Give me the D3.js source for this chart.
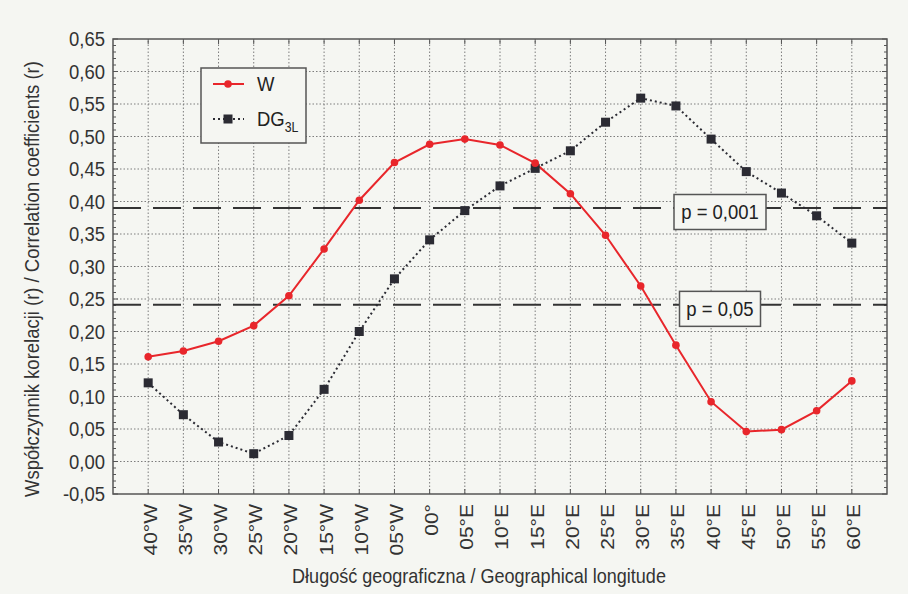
<!DOCTYPE html>
<html>
<head>
<meta charset="utf-8">
<script src="https://cdn.jsdelivr.net/npm/d3@7"></script>
<style>
  html, body { margin: 0; padding: 0; background: #f5f6f2; }
  svg { display: block; font-family: "Liberation Sans", Arial, sans-serif; }
</style>
</head>
<body>
<div id="chart"></div>
<script>
// longitudes along the x axis
const categories = ["40°W", "35°W", "30°W", "25°W", "20°W", "15°W", "10°W", "05°W", "00°",
  "05°E", "10°E", "15°E", "20°E", "25°E", "30°E", "35°E", "40°E", "45°E", "50°E", "55°E", "60°E"];

// correlation coefficients
const wValues = [0.161, 0.170, 0.185, 0.209, 0.255, 0.327, 0.402, 0.460, 0.488, 0.496, 0.487,
  0.459, 0.412, 0.348, 0.270, 0.179, 0.092, 0.046, 0.049, 0.078, 0.124];
const dgValues = [0.121, 0.072, 0.030, 0.012, 0.040, 0.111, 0.200, 0.281, 0.341, 0.386, 0.424,
  0.451, 0.478, 0.522, 0.559, 0.547, 0.496, 0.446, 0.413, 0.378, 0.336];

// significance thresholds
const sigLevels = [0.390, 0.241];
const sigLabels = ["p = 0,001", "p = 0,05"];

const yTicks = [-0.05, 0, 0.05, 0.10, 0.15, 0.20, 0.25, 0.30, 0.35, 0.40, 0.45, 0.50, 0.55, 0.60, 0.65];

const width = 908, height = 594;
const margin = { top: 39, right: 21, bottom: 100, left: 113 };
const sx = 0.88; // text in the source is a bit narrow

const svg = d3.select("#chart").append("svg")
  .attr("width", width)
  .attr("height", height);

svg.append("rect")
  .attr("width", width)
  .attr("height", height)
  .attr("fill", "#f5f6f2");

const x = d3.scalePoint()
  .domain(categories)
  .range([margin.left, width - margin.right])
  .padding(1);

const y = d3.scaleLinear()
  .domain([-0.05, 0.65])
  .range([height - margin.bottom, margin.top]);

const plTick = d3.formatLocale({ decimal: ",", thousands: " ", grouping: [3], currency: ["", ""], minus: "-" }).format(".2f");

const x0 = margin.left, x1 = width - margin.right;
const y0 = height - margin.bottom, y1 = margin.top;

// grid
const grid = svg.append("g")
  .attr("stroke", "#7d7d7d")
  .attr("stroke-width", 1)
  .attr("stroke-dasharray", "1.5,2");

grid.selectAll("line.h")
  .data(yTicks.filter(d => d > -0.05 && d < 0.65))
  .enter().append("line")
  .attr("x1", x0).attr("x2", x1)
  .attr("y1", d => y(d)).attr("y2", d => y(d));

grid.selectAll("line.v")
  .data(categories)
  .enter().append("line")
  .attr("x1", d => x(d)).attr("x2", d => x(d))
  .attr("y1", y0).attr("y2", y1);

// minor ticks left and right
const minor = d3.range(-5, 66).map(d => d / 100);
const tk = svg.append("g").attr("stroke", "#555").attr("stroke-width", 1);
tk.selectAll("line.ml")
  .data(minor)
  .enter().append("line")
  .attr("x1", x0).attr("x2", d => x0 + (Math.round(d * 100) % 5 === 0 ? 5 : 3))
  .attr("y1", d => y(d)).attr("y2", d => y(d));
tk.selectAll("line.mr")
  .data(minor)
  .enter().append("line")
  .attr("x1", x1).attr("x2", d => x1 - (Math.round(d * 100) % 5 === 0 ? 5 : 3))
  .attr("y1", d => y(d)).attr("y2", d => y(d));
tk.selectAll("line.bt")
  .data(categories)
  .enter().append("line")
  .attr("x1", d => x(d)).attr("x2", d => x(d))
  .attr("y1", y0).attr("y2", y0 - 5);
tk.selectAll("line.tt")
  .data(categories)
  .enter().append("line")
  .attr("x1", d => x(d)).attr("x2", d => x(d))
  .attr("y1", y1).attr("y2", y1 + 5);

// frame
svg.append("rect")
  .attr("x", x0).attr("y", y1)
  .attr("width", x1 - x0).attr("height", y0 - y1)
  .attr("fill", "none")
  .attr("stroke", "#555")
  .attr("stroke-width", 1.5);

// y tick labels
svg.append("g")
  .selectAll("text")
  .data(yTicks)
  .enter().append("text")
  .attr("transform", d => `translate(${x0 - 8},${y(d)}) scale(${sx},1)`)
  .attr("dy", "0.35em")
  .attr("text-anchor", "end")
  .attr("font-size", 21)
  .attr("fill", "#333")
  .text(d => plTick(d));

// x tick labels (rotated)
svg.append("g")
  .selectAll("text")
  .data(categories)
  .enter().append("text")
  .attr("transform", d => `translate(${x(d) + 2},${y0 + 10}) rotate(-90) scale(1,${sx})`)
  .attr("dy", "0.35em")
  .attr("text-anchor", "end")
  .attr("font-size", 21)
  .attr("fill", "#333")
  .text(d => d);

// axis titles
svg.append("text")
  .attr("transform", `translate(479,583) scale(${sx},1)`)
  .attr("text-anchor", "middle")
  .attr("font-size", 20.5)
  .attr("fill", "#333")
  .text("Długość geograficzna / Geographical longitude");

svg.append("text")
  .attr("transform", `translate(39,279) rotate(-90) scale(${sx},1)`)
  .attr("text-anchor", "middle")
  .attr("font-size", 21)
  .attr("fill", "#333")
  .text("Współczynnik korelacji (r) / Correlation coefficients (r)");

// significance lines
svg.append("g")
  .selectAll("line")
  .data(sigLevels)
  .enter().append("line")
  .attr("x1", x0).attr("x2", x1)
  .attr("y1", d => y(d)).attr("y2", d => y(d))
  .attr("stroke", "#333")
  .attr("stroke-width", 2)
  .attr("stroke-dasharray", "28,12");

// significance labels in boxes
const sigBox = [{ w: 92, h: 35 }, { w: 81, h: 35 }];
sigLevels.forEach((lv, i) => {
  const cx = 720;
  const cy = y(lv) + 4;
  svg.append("rect")
    .attr("x", cx - sigBox[i].w / 2).attr("y", cy - sigBox[i].h / 2)
    .attr("width", sigBox[i].w).attr("height", sigBox[i].h)
    .attr("fill", "#f5f6f2")
    .attr("stroke", "#555")
    .attr("stroke-width", 1.5);
  svg.append("text")
    .attr("transform", `translate(${cx},${cy}) scale(${sx},1)`)
    .attr("dy", "0.35em")
    .attr("text-anchor", "middle")
    .attr("font-size", 21)
    .attr("fill", "#222")
    .text(sigLabels[i]);
});

// series lines
const line = d3.line()
  .x((d, i) => x(categories[i]))
  .y(d => y(d));

svg.append("path")
  .datum(dgValues)
  .attr("fill", "none")
  .attr("stroke", "#2b2b33")
  .attr("stroke-width", 2)
  .attr("stroke-dasharray", "2,3")
  .attr("d", line);

svg.append("path")
  .datum(wValues)
  .attr("fill", "none")
  .attr("stroke", "#e8262b")
  .attr("stroke-width", 2)
  .attr("d", line);

svg.append("g")
  .selectAll("rect")
  .data(dgValues)
  .enter().append("rect")
  .attr("x", (d, i) => x(categories[i]) - 4.5)
  .attr("y", d => y(d) - 4.5)
  .attr("width", 9).attr("height", 9)
  .attr("fill", "#2b2b33");

svg.append("g")
  .selectAll("circle")
  .data(wValues)
  .enter().append("circle")
  .attr("cx", (d, i) => x(categories[i]))
  .attr("cy", d => y(d))
  .attr("r", 3.8)
  .attr("fill", "#e8262b");

// legend
const legend = svg.append("g");
legend.append("rect")
  .attr("x", 201).attr("y", 68)
  .attr("width", 105).attr("height", 75)
  .attr("fill", "#f5f6f2")
  .attr("stroke", "#555")
  .attr("stroke-width", 1.5);

legend.append("line")
  .attr("x1", 213).attr("x2", 244).attr("y1", 84).attr("y2", 84)
  .attr("stroke", "#e8262b").attr("stroke-width", 2);
legend.append("circle")
  .attr("cx", 228).attr("cy", 84).attr("r", 3.8).attr("fill", "#e8262b");
legend.append("text")
  .attr("transform", `translate(257,84) scale(${sx},1)`)
  .attr("dy", "0.35em")
  .attr("font-size", 21).attr("fill", "#222")
  .text("W");

legend.append("line")
  .attr("x1", 213).attr("x2", 244).attr("y1", 119).attr("y2", 119)
  .attr("stroke", "#2b2b33").attr("stroke-width", 2).attr("stroke-dasharray", "2,3");
legend.append("rect")
  .attr("x", 223.5).attr("y", 114.5).attr("width", 9).attr("height", 9)
  .attr("fill", "#2b2b33");
const dgText = legend.append("text")
  .attr("transform", `translate(257,119) scale(${sx},1)`)
  .attr("dy", "0.35em")
  .attr("font-size", 21).attr("fill", "#222");
dgText.append("tspan").text("DG");
dgText.append("tspan").attr("font-size", 14).attr("dy", "0.4em").text("3L");
</script>
</body>
</html>
